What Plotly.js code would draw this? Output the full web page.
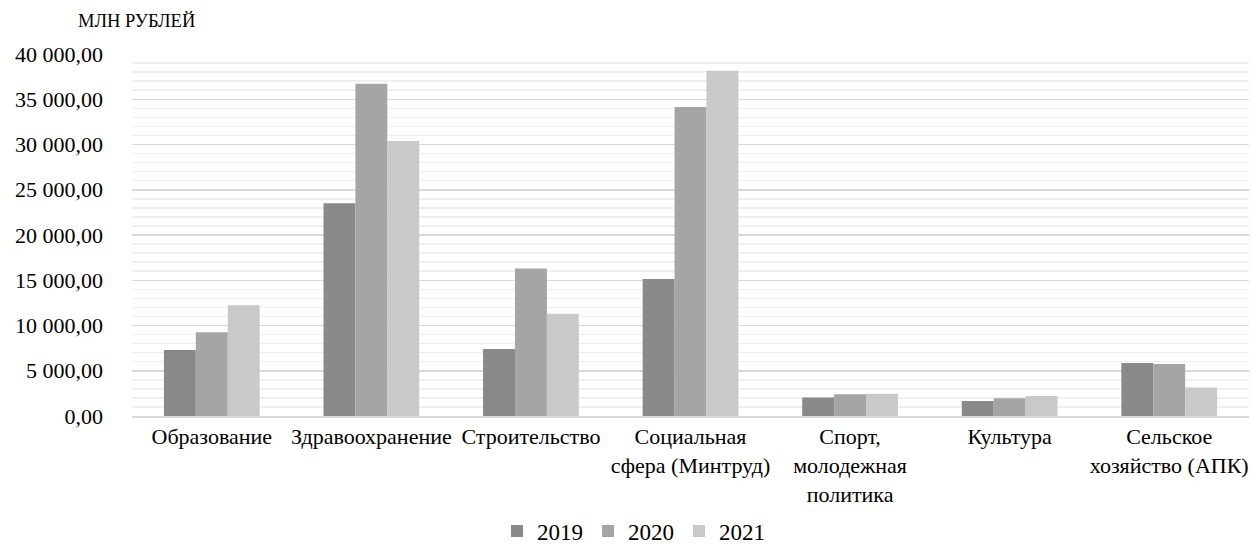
<!DOCTYPE html>
<html>
<head>
<meta charset="utf-8">
<script src="https://cdn.plot.ly/plotly-3.0.1.min.js"></script>
<style>
  html, body { margin: 0; padding: 0; background: #ffffff; }
  #chart { width: 1253px; height: 544px; }
</style>
</head>
<body>
<div id="chart"></div>
<script>
// Spending by sector, million roubles
const categories = [
  'Образование',
  'Здравоохранение',
  'Строительство',
  'Социальная<br>сфера (Минтруд)',
  'Спорт,<br>молодежная<br>политика',
  'Культура',
  'Сельское<br>хозяйство (АПК)'
];
const years = ['2019', '2020', '2021'];
const values2019 = [7300, 23500, 7400, 15150, 2050, 1650, 5850];
const values2020 = [9250, 36700, 16300, 34150, 2400, 1950, 5750];
const values2021 = [12250, 30400, 11300, 38150, 2450, 2200, 3150];
const colors = ['#898989', '#a5a5a5', '#c9c9c9'];

const font = 'Liberation Serif';

const traces = [values2019, values2020, values2021].map((vals, i) => ({
  type: 'bar',
  name: years[i],
  x: categories,
  y: vals,
  marker: { color: colors[i], line: { width: 0 } },
  hoverinfo: 'x+y+name'
}));

const layout = {
  width: 1253,
  height: 544,
  margin: { l: 132, r: 4, t: 54, b: 128, autoexpand: false },
  paper_bgcolor: '#ffffff',
  plot_bgcolor: '#ffffff',
  separators: ', ',
  font: { family: font, size: 22, color: '#000000' },
  barmode: 'group',
  bargap: 0.4,
  bargroupgap: 0,
  showlegend: true,
  legend: {
    orientation: 'h',
    x: 0.449, xanchor: 'center',
    y: -0.318, yanchor: 'middle',
    font: { family: font, size: 23, color: '#000000' },
    itemwidth: 30,
    traceorder: 'normal'
  },
  xaxis: {
    type: 'category',
    showline: true,
    linecolor: '#d9d9d9',
    linewidth: 2,
    showgrid: false,
    ticks: '',
    tickfont: { family: font, size: 22, color: '#000000' },
    automargin: false
  },
  yaxis: {
    range: [0, 40000],
    dtick: 5000,
    tickformat: ',.2f',
    showgrid: true,
    gridcolor: '#d9d9d9',
    gridwidth: 1.5,
    zeroline: false,
    showline: false,
    ticks: '',
    ticklabelstandoff: 28,
    tickfont: { family: font, size: 22, color: '#000000' },
    minor: { dtick: 1000, showgrid: true, gridcolor: '#f0f0f0', gridwidth: 1.5 },
    automargin: false
  },
  annotations: [{
    text: 'МЛН РУБЛЕЙ',
    xref: 'paper', yref: 'paper',
    x: 0.0036, y: 1.0,
    xanchor: 'center', yanchor: 'bottom',
    yshift: 21,
    showarrow: false,
    font: { family: font, size: 18.5, color: '#000000' }
  }]
};

Plotly.newPlot('chart', traces, layout, { displayModeBar: false, staticPlot: true });
</script>
</body>
</html>
